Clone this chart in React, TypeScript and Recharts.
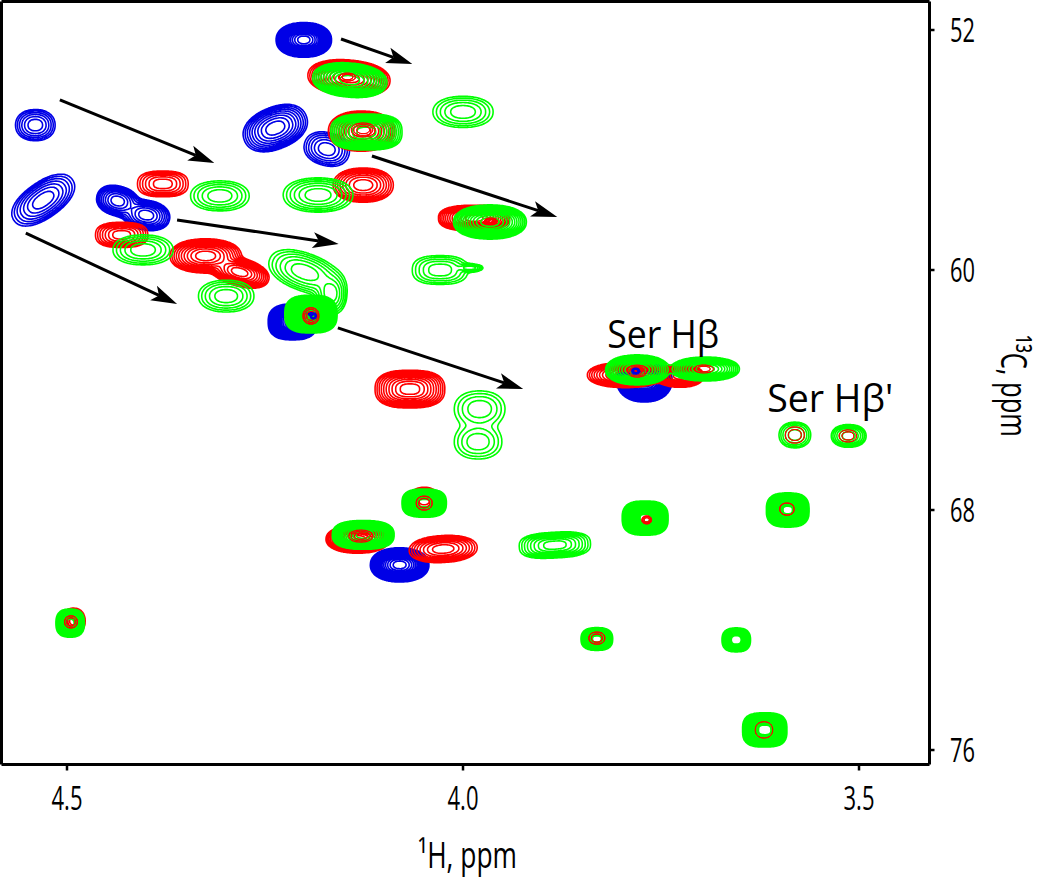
import { ScatterChart, Scatter, XAxis, YAxis, ReferenceLine } from "recharts";

type Lobe = { h: number; c: number; rh: number; rc: number; tilt?: number; q?: number };
type Peak = Lobe & { n: number; skip?: number; lobes?: Lobe[] };

// 1H / 13C positions in ppm, half widths in ppm, n = contour levels above the floor
const bluePeaks: Peak[] = [
  { h: 4.201, c: 52.33, rh: 0.035, rc: 0.58, n: 15 },
  { h: 4.54, c: 55.17, rh: 0.025, rc: 0.52, n: 6 },
  { h: 4.237, c: 55.27, rh: 0.042, rc: 0.7, tilt: -22, n: 9 },
  { h: 4.172, c: 55.97, rh: 0.029, rc: 0.55, tilt: 15, n: 6 },
  { h: 4.53, c: 57.67, rh: 0.045, rc: 0.6, tilt: -35, n: 7 },
  { h: 4.436, c: 57.7, rh: 0.027, rc: 0.5, tilt: 15, n: 8, lobes: [{ h: 4.4, c: 58.17, rh: 0.03, rc: 0.5, tilt: 10 }] },
  { h: 4.215, c: 61.73, rh: 0.031, rc: 0.6, q: 2.6, n: 16 },
  { h: 3.771, c: 63.67, rh: 0.035, rc: 0.73, n: 16 },
  { h: 4.08, c: 69.83, rh: 0.037, rc: 0.57, n: 15 },
];

const redPeaks: Peak[] = [
  { h: 4.144, c: 53.6, rh: 0.052, rc: 0.6, tilt: 5, n: 12 },
  { h: 4.128, c: 55.37, rh: 0.042, rc: 0.67, n: 10 },
  { h: 4.379, c: 57.13, rh: 0.032, rc: 0.43, q: 2.6, n: 6 },
  { h: 4.126, c: 57.17, rh: 0.038, rc: 0.57, n: 8 },
  { h: 4.431, c: 58.83, rh: 0.033, rc: 0.42, q: 2.6, n: 7 },
  { h: 4.325, c: 59.53, rh: 0.045, rc: 0.57, n: 10, lobes: [{ h: 4.282, c: 60.07, rh: 0.038, rc: 0.47, tilt: 15 }] },
  { h: 3.986, c: 58.27, rh: 0.045, rc: 0.43, q: 2.6, n: 12 },
  { h: 4.067, c: 63.97, rh: 0.044, rc: 0.63, q: 2.6, n: 10 },
  { h: 3.795, c: 63.5, rh: 0.048, rc: 0.42, n: 10, lobes: [{ h: 3.726, c: 63.53, rh: 0.03, rc: 0.38 }] },
  { h: 4.133, c: 68.97, rh: 0.04, rc: 0.47, n: 12 },
  { h: 4.025, c: 69.3, rh: 0.043, rc: 0.45, tilt: -3, n: 8 },
  { h: 4.049, c: 67.67, rh: 0.019, rc: 0.43, n: 6 },
  { h: 4.492, c: 71.7, rh: 0.015, rc: 0.43, n: 8 },
];

const greenPeaks: Peak[] = [
  { h: 4.143, c: 53.67, rh: 0.047, rc: 0.57, tilt: 5, n: 11 },
  { h: 4.0, c: 54.73, rh: 0.038, rc: 0.52, n: 5 },
  { h: 4.122, c: 55.4, rh: 0.045, rc: 0.6, q: 2.8, n: 11 },
  { h: 4.307, c: 57.53, rh: 0.037, rc: 0.5, n: 5 },
  { h: 4.183, c: 57.5, rh: 0.044, rc: 0.57, n: 6 },
  { h: 3.966, c: 58.4, rh: 0.046, rc: 0.57, n: 12 },
  { h: 4.404, c: 59.33, rh: 0.038, rc: 0.5, n: 5 },
  { h: 4.299, c: 60.87, rh: 0.035, rc: 0.53, n: 5 },
  { h: 4.2, c: 60.07, rh: 0.047, rc: 0.63, tilt: 20, n: 6, lobes: [{ h: 4.167, c: 60.8, rh: 0.02, rc: 0.7 }] },
  { h: 4.192, c: 61.47, rh: 0.033, rc: 0.63, q: 2.8, n: 30 },
  { h: 3.78, c: 63.33, rh: 0.04, rc: 0.5, n: 11, lobes: [{ h: 3.694, c: 63.3, rh: 0.043, rc: 0.4 }] },
  { h: 4.029, c: 60.0, rh: 0.035, rc: 0.48, q: 2.6, n: 5, lobes: [{ h: 3.991, c: 59.93, rh: 0.016, rc: 0.13 }] },
  { h: 3.979, c: 64.63, rh: 0.032, rc: 0.6, n: 4, lobes: [{ h: 3.981, c: 65.73, rh: 0.03, rc: 0.57 }] },
  { h: 3.581, c: 65.5, rh: 0.02, rc: 0.43, n: 5 },
  { h: 3.513, c: 65.53, rh: 0.022, rc: 0.38, n: 6 },
  { h: 3.59, c: 68.0, rh: 0.027, rc: 0.57, q: 2.8, n: 30, skip: 1 },
  { h: 3.77, c: 68.27, rh: 0.029, rc: 0.57, q: 2.8, n: 30, skip: 1 },
  { h: 3.884, c: 69.17, rh: 0.045, rc: 0.43, tilt: -3, q: 2.8, n: 8 },
  { h: 4.049, c: 67.77, rh: 0.028, rc: 0.47, q: 2.8, n: 22, skip: 1 },
  { h: 4.126, c: 68.83, rh: 0.039, rc: 0.48, q: 2.6, n: 14 },
  { h: 4.496, c: 71.77, rh: 0.018, rc: 0.47, q: 2.6, n: 20, skip: 1 },
  { h: 3.831, c: 72.3, rh: 0.02, rc: 0.38, q: 2.6, n: 20, skip: 1 },
  { h: 3.655, c: 72.33, rh: 0.018, rc: 0.4, q: 2.6, n: 20, skip: 2 },
  { h: 3.619, c: 75.33, rh: 0.028, rc: 0.57, q: 3, n: 30, skip: 2 },
];

// peak tops of the red and blue spectra that show through the green contours
const redCores: Peak[] = [
  { h: 4.146, c: 53.57, rh: 0.01, rc: 0.13, n: 2 },
  { h: 4.126, c: 55.33, rh: 0.015, rc: 0.23, n: 3 },
  { h: 3.965, c: 58.37, rh: 0.008, rc: 0.1, n: 4 },
  { h: 4.192, c: 61.53, rh: 0.01, rc: 0.27, n: 3 },
  { h: 3.78, c: 63.37, rh: 0.012, rc: 0.2, n: 3 },
  { h: 3.696, c: 63.3, rh: 0.012, rc: 0.13, n: 2 },
  { h: 3.581, c: 65.5, rh: 0.012, rc: 0.27, n: 2 },
  { h: 3.514, c: 65.53, rh: 0.011, rc: 0.2, n: 2 },
  { h: 3.768, c: 68.33, rh: 0.006, rc: 0.13, n: 3 },
  { h: 3.591, c: 67.97, rh: 0.009, rc: 0.2, n: 1 },
  { h: 4.049, c: 67.77, rh: 0.01, rc: 0.23, n: 2 },
  { h: 4.129, c: 68.87, rh: 0.015, rc: 0.2, n: 3 },
  { h: 3.831, c: 72.27, rh: 0.01, rc: 0.2, n: 2 },
  { h: 4.495, c: 71.73, rh: 0.008, rc: 0.2, n: 2 },
  { h: 3.62, c: 75.33, rh: 0.011, rc: 0.27, n: 1 },
];
const blueCores: Peak[] = [
  { h: 4.189, c: 61.53, rh: 0.004, rc: 0.1, n: 3 },
  { h: 3.782, c: 63.37, rh: 0.005, rc: 0.1, n: 3 },
];

const arrows = [
  { from: [4.509, 54.33], to: [4.314, 56.43] },
  { from: [4.154, 52.3], to: [4.064, 53.13] },
  { from: [4.115, 56.2], to: [3.881, 58.23] },
  { from: [4.361, 58.33], to: [4.157, 59.13] },
  { from: [4.552, 58.77], to: [4.361, 61.13] },
  { from: [4.158, 61.93], to: [3.924, 63.97] },
];

const annotations = [
  { h: 3.818, c: 62.6, text: "Ser Hβ", width: 112 },
  { h: 3.616, c: 64.73, text: "Ser Hβ'", width: 126 },
];

const hTicks = [4.5, 4.0, 3.5];
const cTicks = [52, 60, 68, 76];

const H_DOMAIN = [3.411, 4.5827];
const C_DOMAIN = [51.05, 76.483];
const PLOT_W = 928;
const PLOT_H = 763;
const PX_PER_H = PLOT_W / (H_DOMAIN[1] - H_DOMAIN[0]);
const PX_PER_C = PLOT_H / (C_DOMAIN[1] - C_DOMAIN[0]);

const FONT = "'Open Sans', sans-serif";
const BLUE = "#0000e6";
const RED = "#ff0000";
const GREEN = "#00ff00";

// level number of one lobe at pixel offset (dx, dy) from its centre
function lobeLevel(lobe: Lobe, n: number, x0: number, y0: number, x: number, y: number) {
  const t = ((lobe.tilt ?? 0) * Math.PI) / 180;
  const q = lobe.q ?? 2.2;
  const dx = x - x0;
  const dy = y - y0;
  const u = Math.abs((dx * Math.cos(t) + dy * Math.sin(t)) / (lobe.rh * PX_PER_H));
  const v = Math.abs((-dx * Math.sin(t) + dy * Math.cos(t)) / (lobe.rc * PX_PER_C));
  const rho = Math.pow(Math.pow(u, q) + Math.pow(v, q), 1 / q);
  return n * (1 - Math.pow(rho, 1.8));
}

// marching squares over the peak's own box, one sub path per cell crossing
function contourPath(peak: Peak, cx: number, cy: number) {
  const parts = [peak, ...(peak.lobes ?? [])].map((l) => ({
    lobe: l,
    x0: cx + (peak.h - l.h) * PX_PER_H,
    y0: cy + (l.c - peak.c) * PX_PER_C,
  }));
  let minX = Infinity, maxX = -Infinity, minY = Infinity, maxY = -Infinity;
  for (const p of parts) {
    const r = Math.max(p.lobe.rh * PX_PER_H, p.lobe.rc * PX_PER_C) * 1.3 + 4;
    minX = Math.min(minX, p.x0 - r);
    maxX = Math.max(maxX, p.x0 + r);
    minY = Math.min(minY, p.y0 - r);
    maxY = Math.max(maxY, p.y0 + r);
  }
  const step = peak.rh * PX_PER_H < 8 ? 0.5 : 1.25;
  const cols = Math.ceil((maxX - minX) / step) + 1;
  const rows = Math.ceil((maxY - minY) / step) + 1;
  const grid = new Float64Array(cols * rows);
  const K = 0.5;
  for (let j = 0; j < rows; j++) {
    for (let i = 0; i < cols; i++) {
      const x = minX + i * step;
      const y = minY + j * step;
      let v: number;
      if (parts.length === 1) {
        v = lobeLevel(parts[0].lobe, peak.n, parts[0].x0, parts[0].y0, x, y);
      } else {
        let s = 0;
        for (const p of parts) s += Math.exp(K * lobeLevel(p.lobe, peak.n, p.x0, p.y0, x, y));
        v = Math.log(s) / K;
      }
      grid[j * cols + i] = v;
    }
  }
  const top = peak.n - 1 - (peak.skip ?? 0);
  const out: string[] = [];
  for (let j = 0; j < rows - 1; j++) {
    for (let i = 0; i < cols - 1; i++) {
      const a = grid[j * cols + i];
      const b = grid[j * cols + i + 1];
      const c = grid[(j + 1) * cols + i + 1];
      const d = grid[(j + 1) * cols + i];
      const hi = Math.max(a, b, c, d);
      if (hi < 0) continue;
      const lo = Math.min(a, b, c, d);
      const x = minX + i * step;
      const y = minY + j * step;
      for (let k = Math.max(0, Math.ceil(lo)); k <= Math.min(hi, top); k++) {
        const pts: string[] = [];
        if (a < k !== b < k) pts.push(`${(x + (step * (k - a)) / (b - a)).toFixed(1)} ${y.toFixed(1)}`);
        if (b < k !== c < k) pts.push(`${(x + step).toFixed(1)} ${(y + (step * (k - b)) / (c - b)).toFixed(1)}`);
        if (d < k !== c < k) pts.push(`${(x + (step * (k - d)) / (c - d)).toFixed(1)} ${(y + step).toFixed(1)}`);
        if (a < k !== d < k) pts.push(`${x.toFixed(1)} ${(y + (step * (k - a)) / (d - a)).toFixed(1)}`);
        if (pts.length >= 2) out.push(`M${pts[0]}L${pts[1]}`);
        if (pts.length === 4) out.push(`M${pts[2]}L${pts[3]}`);
      }
    }
  }
  return out.join("");
}

function contourShape(color: string, width: number) {
  return (props: any) => {
    const { cx, cy, payload } = props;
    if (cx == null || cy == null) return <g />;
    return <path d={contourPath(payload, cx, cy)} fill="none" stroke={color} strokeWidth={width} strokeLinecap="round" />;
  };
}

function ArrowShape(props: any) {
  const { x1, y1, x2, y2 } = props;
  const len = Math.hypot(x2 - x1, y2 - y1);
  const ux = (x2 - x1) / len;
  const uy = (y2 - y1) / len;
  const at = (back: number, side: number) =>
    `${x2 - ux * back - uy * side},${y2 - uy * back + ux * side}`;
  return (
    <g>
      <line x1={x1} y1={y1} x2={x2 - ux * 20} y2={y2 - uy * 20} stroke="#000" strokeWidth={3} />
      <polygon points={[at(0, 0), at(26, 8), at(20, 0), at(26, -8)].join(" ")} fill="#000" />
    </g>
  );
}

function annotationShape(props: any) {
  const { cx, cy, payload } = props;
  return (
    <text x={cx} y={cy} fontFamily={FONT} fontSize={38} fill="#000" textLength={payload.width} lengthAdjust="spacingAndGlyphs">
      {payload.text}
    </text>
  );
}

function HTick(props: any) {
  const { x, payload } = props;
  return (
    <text x={x} y={810} textAnchor="middle" fontFamily={FONT} fontSize={32} fill="#000" textLength={31} lengthAdjust="spacingAndGlyphs">
      {payload.value.toFixed(1)}
    </text>
  );
}

function CTick(props: any) {
  const { y, payload } = props;
  return (
    <text x={950} y={y + 12} fontFamily={FONT} fontSize={33} fill="#000" textLength={25} lengthAdjust="spacingAndGlyphs">
      {payload.value}
    </text>
  );
}

const layers: [Peak[], string, number][] = [
  [bluePeaks, BLUE, 1.6],
  [redPeaks, RED, 1.6],
  [greenPeaks, GREEN, 1.6],
  [redCores, RED, 1],
  [blueCores, BLUE, 1.2],
];

export default function App() {
  return (
    <div style={{ position: "absolute", left: 0, top: 0, width: 1050, height: 880, background: "#fff" }}>
      <ScatterChart width={1050} height={880} margin={{ top: 1.5, left: 1.5, right: 0, bottom: 0 }}>
        <XAxis
          type="number"
          dataKey="h"
          domain={H_DOMAIN}
          ticks={hTicks}
          reversed
          allowDataOverflow
          interval={0}
          height={115.5}
          tick={HTick}
          tickSize={6}
          axisLine={{ stroke: "#000", strokeWidth: 3 }}
          tickLine={{ stroke: "#000", strokeWidth: 2.5 }}
        />
        <YAxis
          type="number"
          dataKey="c"
          domain={C_DOMAIN}
          ticks={cTicks}
          reversed
          allowDataOverflow
          interval={0}
          orientation="right"
          width={120.5}
          tick={CTick}
          tickSize={5}
          axisLine={{ stroke: "#000", strokeWidth: 3 }}
          tickLine={{ stroke: "#000", strokeWidth: 2.5 }}
        />
        <ReferenceLine x={H_DOMAIN[1]} stroke="#000" strokeWidth={3} ifOverflow="visible" />
        <ReferenceLine y={C_DOMAIN[0]} stroke="#000" strokeWidth={3} ifOverflow="visible" />
        {layers.map(([data, color, width], i) => (
          <Scatter key={i} data={data} shape={contourShape(color, width)} isAnimationActive={false} />
        ))}
        {arrows.map((a, i) => (
          <ReferenceLine
            key={i}
            segment={[
              { x: a.from[0], y: a.from[1] },
              { x: a.to[0], y: a.to[1] },
            ]}
            shape={ArrowShape}
            ifOverflow="visible"
          />
        ))}
        <Scatter data={annotations} shape={annotationShape} isAnimationActive={false} />
        <text x={418} y={868} fontFamily={FONT} fontSize={37} fill="#000" textLength={99} lengthAdjust="spacingAndGlyphs">
          ¹H, ppm
        </text>
        <text
          transform="translate(1001 335) rotate(90)"
          fontFamily={FONT}
          fontSize={37}
          fill="#000"
          textLength={102}
          lengthAdjust="spacingAndGlyphs"
        >
          ¹³C, ppm
        </text>
      </ScatterChart>
    </div>
  );
}
